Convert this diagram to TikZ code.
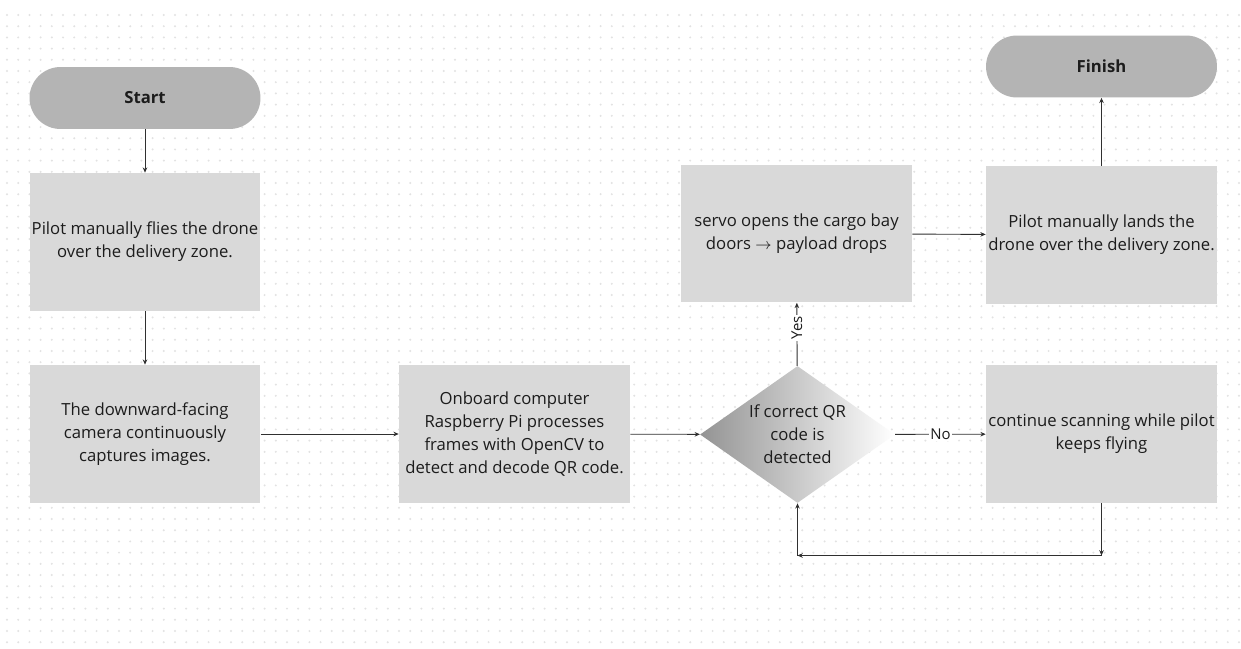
\documentclass[tikz,border=0pt]{standalone}
\usepackage{fontspec}
\setmainfont{Open Sans}
\usetikzlibrary{shapes.geometric,arrows.meta}

\definecolor{boxgray}{HTML}{D9D9D9}
\definecolor{pillgray}{HTML}{B4B4B4}
\definecolor{dotgray}{HTML}{E2E2E2}
\definecolor{linegray}{HTML}{303030}
\definecolor{inkblack}{HTML}{1C1C1C}

\tikzset{
  flowbox/.style={rectangle, fill=boxgray, text=inkblack, minimum width=4.62cm, minimum height=2.76cm,
    align=center, inner sep=1pt, font=\fontsize{9.5}{13}\selectfont},
  terminal/.style={rectangle, rounded corners=0.62cm, fill=pillgray, text=inkblack, minimum width=4.62cm,
    minimum height=1.24cm, font=\bfseries\fontsize{9.5}{13}\selectfont},
  decision/.style={diamond, shading=axis, left color=black!42, right color=white, shading angle=90,
    text=inkblack, minimum width=3.9cm, minimum height=2.74cm, aspect=1.42, inner sep=0pt,
    align=center, font=\fontsize{9.5}{13}\selectfont},
  link/.style={draw=linegray, line width=0.5pt, -{Stealth[length=3pt,width=2.6pt]}},
  lbl/.style={fill=white, inner sep=1pt, text=inkblack, font=\fontsize{8.5}{10}\selectfont}
}

\begin{document}
\begin{tikzpicture}[x=0.02cm, y=-0.02cm]
    \useasboundingbox (0,0) rectangle (1241,649);
    \fill[white] (0,0) rectangle (1241,649);

    % dotted background
    \foreach \i in {0,...,110}
        \foreach \j in {0,...,57}
            \fill[dotgray] (7+11.2*\i,15+11.2*\j) circle (0.022cm);

    \node[terminal] (start) at (145,98) {Start};
    \node[flowbox] (fly) at (145,242) {Pilot manually flies the drone\\over the delivery zone.};
    \node[flowbox] (cam) at (145,434) {The downward-facing\\camera continuously\\captures images.};
    \node[flowbox] (cpu) at (514.5,434) {Onboard computer\\Raspberry Pi processes\\frames with OpenCV to\\detect and decode QR code.};
    \node[decision] (check) at (797.5,434.5) {If correct QR\\code is\\detected};
    \node[flowbox] (servo) at (796.5,233.5) {servo opens the cargo bay\\doors $\rightarrow$ payload drops};
    \node[flowbox] (land) at (1101.5,235) {Pilot manually lands the\\drone over the delivery zone.};
    \node[flowbox] (scan) at (1101.5,434) {continue scanning while pilot\\keeps flying};
    \node[terminal] (finish) at (1101.5,66.5) {Finish};

    \coordinate (loopr) at (1101.5,555.5);
    \coordinate (loopl) at (797.5,555.5);

    \draw[link] (start) -- (fly);
    \draw[link] (fly) -- (cam);
    \draw[link] (cam) -- (cpu);
    \draw[link] (cpu) -- (check);
    \draw[link] (check) -- node[lbl, rotate=90, pos=0.6] {Yes} (servo);
    \draw[link] (check) -- node[lbl] {No} (scan);
    \draw[link] (servo) -- (land);
    \draw[link] (land) -- (finish);

    % back to the check
    \draw[link] (scan) -- (loopr);
    \draw[link] (loopr) -- (loopl);
    \draw[link] (loopl) -- (check);
\end{tikzpicture}
\end{document}
